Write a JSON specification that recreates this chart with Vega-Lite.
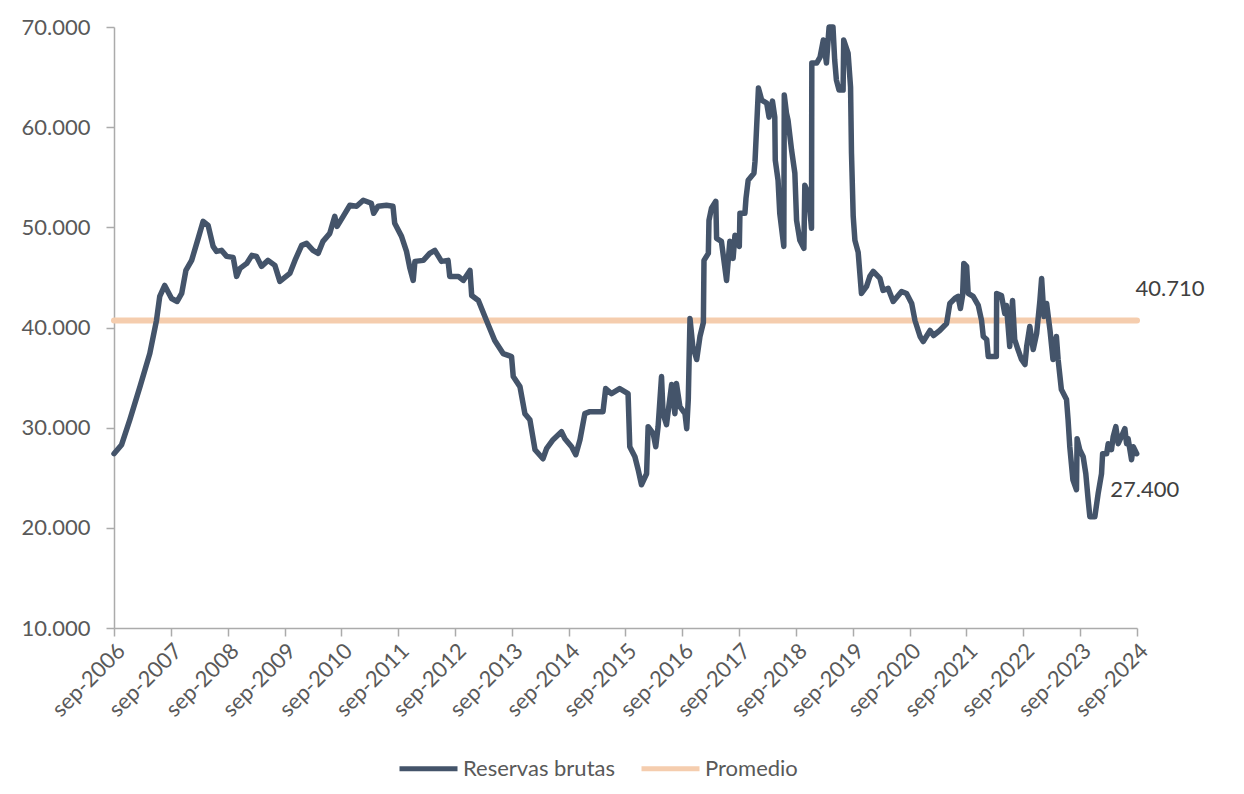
{
 "$schema": "https://vega.github.io/schema/vega-lite/v6.json",
 "width": 1023,
 "height": 601,
 "autosize": "none",
 "padding": {"left": 114, "top": 27, "right": 107, "bottom": 166},
 "config": {
  "view": {"stroke": null},
  "font": "Lato",
  "axis": {"grid": false, "domainColor": "#ABABAB", "tickColor": "#ABABAB", "domainWidth": 1.5, "tickWidth": 1.5, "labelColor": "#595959", "labelFont": "Lato", "labelFontSize": 22, "title": null}
 },
 "datasets": {
  "reservas": [
   {"d":"2006-09-01","v":27400},{"d":"2006-10-20","v":28300},{"d":"2006-12-12","v":30800},{"d":"2007-02-15","v":34100},{"d":"2007-04-19","v":37400},{"d":"2007-06-01","v":40700},{"d":"2007-06-22","v":43100},{"d":"2007-07-24","v":44200},{"d":"2007-09-06","v":42900},{"d":"2007-10-12","v":42600},{"d":"2007-11-10","v":43400},{"d":"2007-12-07","v":45700},{"d":"2008-01-13","v":46700},{"d":"2008-02-24","v":48900},{"d":"2008-03-27","v":50600},{"d":"2008-04-28","v":50200},{"d":"2008-05-30","v":48100},{"d":"2008-06-21","v":47600},{"d":"2008-07-23","v":47700},{"d":"2008-08-25","v":47100},{"d":"2008-10-06","v":47000},{"d":"2008-10-28","v":45100},{"d":"2008-11-19","v":45900},{"d":"2009-01-01","v":46400},{"d":"2009-02-03","v":47200},{"d":"2009-03-05","v":47100},{"d":"2009-04-06","v":46100},{"d":"2009-05-18","v":46700},{"d":"2009-07-01","v":46200},{"d":"2009-08-02","v":44600},{"d":"2009-10-05","v":45400},{"d":"2009-11-07","v":46700},{"d":"2009-12-20","v":48200},{"d":"2010-01-21","v":48400},{"d":"2010-03-03","v":47700},{"d":"2010-04-05","v":47400},{"d":"2010-05-06","v":48600},{"d":"2010-06-19","v":49400},{"d":"2010-07-21","v":51100},{"d":"2010-08-05","v":50100},{"d":"2010-09-13","v":51100},{"d":"2010-10-26","v":52200},{"d":"2010-12-08","v":52100},{"d":"2011-01-20","v":52700},{"d":"2011-03-13","v":52400},{"d":"2011-03-28","v":51400},{"d":"2011-04-25","v":52100},{"d":"2011-06-18","v":52200},{"d":"2011-07-30","v":52100},{"d":"2011-08-10","v":50400},{"d":"2011-09-23","v":49100},{"d":"2011-10-25","v":47600},{"d":"2011-11-16","v":45900},{"d":"2011-12-07","v":44700},{"d":"2011-12-18","v":46600},{"d":"2012-02-10","v":46700},{"d":"2012-03-22","v":47400},{"d":"2012-04-24","v":47700},{"d":"2012-06-06","v":46600},{"d":"2012-07-18","v":46700},{"d":"2012-07-29","v":45100},{"d":"2012-09-22","v":45100},{"d":"2012-10-24","v":44700},{"d":"2012-12-06","v":45700},{"d":"2012-12-17","v":43200},{"d":"2013-01-29","v":42700},{"d":"2013-03-22","v":40700},{"d":"2013-05-14","v":38700},{"d":"2013-07-07","v":37400},{"d":"2013-08-30","v":37100},{"d":"2013-09-10","v":35100},{"d":"2013-10-23","v":34100},{"d":"2013-11-24","v":31400},{"d":"2013-12-26","v":30800},{"d":"2014-01-28","v":27800},{"d":"2014-03-20","v":26900},{"d":"2014-04-12","v":27900},{"d":"2014-05-24","v":28800},{"d":"2014-07-17","v":29600},{"d":"2014-08-08","v":28900},{"d":"2014-09-20","v":28100},{"d":"2014-10-17","v":27300},{"d":"2014-11-13","v":28800},{"d":"2014-12-14","v":31400},{"d":"2015-01-16","v":31600},{"d":"2015-04-10","v":31600},{"d":"2015-04-27","v":33900},{"d":"2015-06-03","v":33400},{"d":"2015-07-26","v":33900},{"d":"2015-09-18","v":33400},{"d":"2015-09-29","v":28100},{"d":"2015-11-01","v":27100},{"d":"2015-11-22","v":25800},{"d":"2015-12-13","v":24300},{"d":"2016-01-15","v":25400},{"d":"2016-01-25","v":30100},{"d":"2016-02-27","v":29400},{"d":"2016-03-14","v":28100},{"d":"2016-03-29","v":30100},{"d":"2016-04-20","v":35100},{"d":"2016-04-30","v":31400},{"d":"2016-05-22","v":30300},{"d":"2016-06-24","v":34300},{"d":"2016-07-15","v":31400},{"d":"2016-07-25","v":34400},{"d":"2016-08-16","v":32100},{"d":"2016-09-18","v":31400},{"d":"2016-09-29","v":29900},{"d":"2016-10-09","v":32800},{"d":"2016-10-20","v":40900},{"d":"2016-11-07","v":38100},{"d":"2016-12-02","v":36800},{"d":"2016-12-23","v":39100},{"d":"2017-01-14","v":40500},{"d":"2017-01-18","v":46700},{"d":"2017-02-15","v":47400},{"d":"2017-02-19","v":50700},{"d":"2017-03-07","v":51900},{"d":"2017-04-04","v":52600},{"d":"2017-04-09","v":48900},{"d":"2017-05-10","v":48600},{"d":"2017-06-12","v":44700},{"d":"2017-07-03","v":48600},{"d":"2017-07-24","v":46900},{"d":"2017-08-05","v":49200},{"d":"2017-09-02","v":48100},{"d":"2017-09-06","v":51400},{"d":"2017-10-08","v":51400},{"d":"2017-10-15","v":52900},{"d":"2017-10-29","v":54700},{"d":"2017-12-05","v":55400},{"d":"2017-12-12","v":56600},{"d":"2018-01-03","v":63900},{"d":"2018-01-24","v":62700},{"d":"2018-02-25","v":62400},{"d":"2018-03-12","v":61000},{"d":"2018-04-03","v":62600},{"d":"2018-04-18","v":61000},{"d":"2018-04-21","v":56700},{"d":"2018-05-09","v":54700},{"d":"2018-05-20","v":51400},{"d":"2018-06-15","v":48100},{"d":"2018-06-18","v":63200},{"d":"2018-07-02","v":61400},{"d":"2018-07-12","v":60700},{"d":"2018-08-04","v":57700},{"d":"2018-08-25","v":55400},{"d":"2018-09-05","v":50700},{"d":"2018-09-26","v":48700},{"d":"2018-10-22","v":47900},{"d":"2018-10-28","v":54200},{"d":"2018-11-19","v":53400},{"d":"2018-12-10","v":49900},{"d":"2018-12-12","v":66400},{"d":"2019-01-12","v":66400},{"d":"2019-02-03","v":67000},{"d":"2019-02-24","v":68700},{"d":"2019-03-16","v":66400},{"d":"2019-04-02","v":70000},{"d":"2019-04-27","v":70000},{"d":"2019-05-08","v":66700},{"d":"2019-05-19","v":64700},{"d":"2019-06-05","v":63700},{"d":"2019-07-01","v":63700},{"d":"2019-07-05","v":68700},{"d":"2019-08-02","v":67400},{"d":"2019-08-18","v":64000},{"d":"2019-08-24","v":57400},{"d":"2019-09-04","v":51100},{"d":"2019-09-15","v":48700},{"d":"2019-10-06","v":47500},{"d":"2019-10-27","v":43400},{"d":"2019-11-29","v":44100},{"d":"2019-12-20","v":45100},{"d":"2020-01-11","v":45600},{"d":"2020-02-23","v":44900},{"d":"2020-03-14","v":43700},{"d":"2020-04-16","v":43900},{"d":"2020-05-18","v":42600},{"d":"2020-07-11","v":43600},{"d":"2020-08-12","v":43400},{"d":"2020-09-14","v":42400},{"d":"2020-10-05","v":40700},{"d":"2020-11-07","v":39100},{"d":"2020-11-27","v":38600},{"d":"2021-01-10","v":39700},{"d":"2021-02-01","v":39200},{"d":"2021-03-13","v":39700},{"d":"2021-04-26","v":40400},{"d":"2021-05-17","v":42400},{"d":"2021-06-18","v":42900},{"d":"2021-07-09","v":43100},{"d":"2021-07-24","v":41900},{"d":"2021-08-07","v":43200},{"d":"2021-08-15","v":46400},{"d":"2021-09-02","v":46100},{"d":"2021-09-12","v":43400},{"d":"2021-10-14","v":43100},{"d":"2021-11-16","v":42200},{"d":"2021-12-07","v":40700},{"d":"2021-12-18","v":39100},{"d":"2022-01-09","v":38800},{"d":"2022-01-19","v":37100},{"d":"2022-03-12","v":37100},{"d":"2022-03-14","v":43400},{"d":"2022-04-14","v":43200},{"d":"2022-05-05","v":41400},{"d":"2022-05-16","v":42200},{"d":"2022-06-06","v":38100},{"d":"2022-06-24","v":42700},{"d":"2022-07-08","v":38800},{"d":"2022-07-29","v":37800},{"d":"2022-08-21","v":36800},{"d":"2022-09-12","v":36300},{"d":"2022-09-23","v":38100},{"d":"2022-10-13","v":40100},{"d":"2022-11-04","v":37800},{"d":"2022-11-26","v":39400},{"d":"2022-12-17","v":42700},{"d":"2022-12-28","v":44900},{"d":"2023-01-12","v":41100},{"d":"2023-01-29","v":42400},{"d":"2023-02-20","v":39700},{"d":"2023-03-11","v":36800},{"d":"2023-04-02","v":39100},{"d":"2023-04-13","v":36800},{"d":"2023-05-04","v":33800},{"d":"2023-06-06","v":32800},{"d":"2023-06-16","v":30800},{"d":"2023-06-27","v":28100},{"d":"2023-07-17","v":24800},{"d":"2023-08-09","v":23800},{"d":"2023-08-13","v":28900},{"d":"2023-08-30","v":27800},{"d":"2023-09-21","v":27100},{"d":"2023-10-08","v":25400},{"d":"2023-10-23","v":22800},{"d":"2023-11-03","v":21100},{"d":"2023-12-05","v":21100},{"d":"2023-12-26","v":23400},{"d":"2024-01-17","v":25400},{"d":"2024-01-24","v":27400},{"d":"2024-02-19","v":27400},{"d":"2024-02-29","v":28400},{"d":"2024-03-21","v":27800},{"d":"2024-04-01","v":29100},{"d":"2024-04-18","v":30100},{"d":"2024-05-03","v":28400},{"d":"2024-05-24","v":29100},{"d":"2024-06-15","v":29900},{"d":"2024-06-26","v":28400},{"d":"2024-07-06","v":28900},{"d":"2024-07-28","v":26800},{"d":"2024-08-08","v":28100},{"d":"2024-08-30","v":27400}
  ]
 },
 "resolve": {"scale": {"y": "shared"}},
 "layer": [
  {
   "data": {"values": [{"v": 40710}]},
   "mark": {"type": "rule", "strokeWidth": 6, "strokeCap": "round"},
   "encoding": {
    "y": {"field": "v", "type": "quantitative", "scale": {"domain": [10000, 70000], "zero": false}},
    "color": {"datum": "Promedio", "type": "nominal"}
   }
  },
  {
   "data": {"name": "reservas"},
   "mark": {"type": "line", "strokeWidth": 5.5, "strokeJoin": "round", "strokeCap": "round"},
   "encoding": {
    "x": {
     "field": "d", "type": "temporal",
     "scale": {"type": "utc", "domain": [{"year": 2006, "month": 9, "date": 1, "utc": true}, {"year": 2024, "month": 9, "date": 1, "utc": true}]},
     "axis": {
      "values": [
       {"year": 2006, "month": 9, "date": 1, "utc": true},{"year": 2007, "month": 9, "date": 1, "utc": true},{"year": 2008, "month": 9, "date": 1, "utc": true},{"year": 2009, "month": 9, "date": 1, "utc": true},{"year": 2010, "month": 9, "date": 1, "utc": true},{"year": 2011, "month": 9, "date": 1, "utc": true},{"year": 2012, "month": 9, "date": 1, "utc": true},{"year": 2013, "month": 9, "date": 1, "utc": true},{"year": 2014, "month": 9, "date": 1, "utc": true},{"year": 2015, "month": 9, "date": 1, "utc": true},{"year": 2016, "month": 9, "date": 1, "utc": true},{"year": 2017, "month": 9, "date": 1, "utc": true},{"year": 2018, "month": 9, "date": 1, "utc": true},{"year": 2019, "month": 9, "date": 1, "utc": true},{"year": 2020, "month": 9, "date": 1, "utc": true},{"year": 2021, "month": 9, "date": 1, "utc": true},{"year": 2022, "month": 9, "date": 1, "utc": true},{"year": 2023, "month": 9, "date": 1, "utc": true},{"year": 2024, "month": 9, "date": 1, "utc": true}
      ],
      "labelExpr": "lower(utcFormat(datum.value, '%b-%Y'))",
      "labelAngle": -45, "labelAlign": "right", "labelBaseline": "top",
      "tickSize": 8, "labelPadding": 4, "labelOverlap": false
     }
    },
    "y": {
     "field": "v", "type": "quantitative",
     "scale": {"domain": [10000, 70000], "zero": false},
     "axis": {"values": [10000, 20000, 30000, 40000, 50000, 60000, 70000], "labelExpr": "replace(format(datum.value, ','), ',', '.')", "tickSize": 8, "labelPadding": 16}
    },
    "color": {
     "datum": "Reservas brutas", "type": "nominal",
     "scale": {"domain": ["Reservas brutas", "Promedio"], "range": ["#44546A", "#F5CDAE"]},
     "legend": {"orient": "none", "legendX": 283, "legendY": 710, "direction": "horizontal", "title": null, "symbolType": "stroke", "symbolSize": 3364, "symbolStrokeWidth": 5, "labelFontSize": 22, "labelColor": "#595959", "labelFont": "Lato", "columnPadding": 16, "labelOffset": 3}
    }
   }
  },
  {
   "data": {"values": [{"d": "2024-09-01", "v": 40710, "t": "40.710"}]},
   "mark": {"type": "text", "dx": 33, "dy": -31, "fontSize": 22, "font": "Lato", "color": "#404040", "align": "center", "baseline": "middle"},
   "encoding": {"x": {"field": "d", "type": "temporal"}, "y": {"field": "v", "type": "quantitative"}, "text": {"field": "t"}}
  },
  {
   "data": {"values": [{"d": "2024-08-30", "v": 27400, "t": "27.400"}]},
   "mark": {"type": "text", "dx": 8, "dy": 36, "fontSize": 22, "font": "Lato", "color": "#404040", "align": "center", "baseline": "middle"},
   "encoding": {"x": {"field": "d", "type": "temporal"}, "y": {"field": "v", "type": "quantitative"}, "text": {"field": "t"}}
  }
 ]
}
